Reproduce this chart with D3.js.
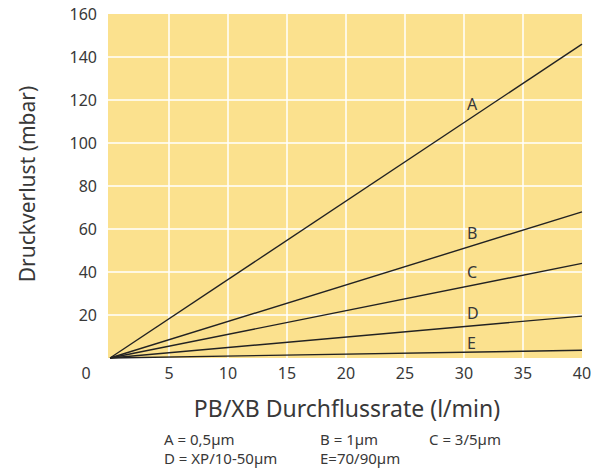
<!DOCTYPE html>
<html>
<head>
<meta charset="utf-8">
<script src="https://cdn.jsdelivr.net/npm/d3@7"></script>
<style>
  body { margin: 0; background: #fff; }
  text { font-family: "Noto Sans", sans-serif; fill: #383838; }
</style>
</head>
<body>
<div id="chart"></div>
<script>
// Flow rate (l/min) and pressure drop (mbar) per filter grade, lines from origin
const flowRates = [0, 40];
const seriesA = [0, 146];
const seriesB = [0, 68];
const seriesC = [0, 44];
const seriesD = [0, 19.5];
const seriesE = [0, 3.6];
const seriesNames = ["A", "B", "C", "D", "E"];
const xTicks = [5, 10, 15, 20, 25, 30, 35, 40];
const yTicks = [20, 40, 60, 80, 100, 120, 140, 160];
const legendItems = [
    ["A = 0,5µm", "B = 1µm", "C = 3/5µm"],
    ["D = XP/10-50µm", "E=70/90µm"]
];

const width = 593, height = 471;
const plotLeft = 110, plotRight = 582, plotTop = 14, plotBottom = 358;

const svg = d3.select("#chart").append("svg")
    .attr("width", width).attr("height", height);

const x = d3.scaleLinear().domain([0, 40]).range([plotLeft, plotRight]);
const y = d3.scaleLinear().domain([0, 160]).range([plotBottom, plotTop]);

// plot background
svg.append("rect")
    .attr("x", plotLeft - 2).attr("y", plotTop)
    .attr("width", plotRight - plotLeft + 2).attr("height", plotBottom - plotTop)
    .attr("fill", "#fbe18e");

// grid
svg.selectAll(".vgrid").data(xTicks.slice(0, -1)).enter().append("line")
    .attr("x1", d => x(d)).attr("x2", d => x(d))
    .attr("y1", plotTop).attr("y2", plotBottom)
    .attr("stroke", "#fff").attr("stroke-width", 1.5);

svg.selectAll(".hgrid").data(yTicks.slice(0, -1)).enter().append("line")
    .attr("x1", plotLeft - 2).attr("x2", plotRight)
    .attr("y1", d => y(d)).attr("y2", d => y(d))
    .attr("stroke", "#fff").attr("stroke-width", 1.5);

// lines
const allSeries = [seriesA, seriesB, seriesC, seriesD, seriesE];
const line = d3.line().x((d, i) => x(flowRates[i])).y(d => y(d));
allSeries.forEach(s => {
    svg.append("path").datum(s)
        .attr("d", line)
        .attr("fill", "none")
        .attr("stroke", "#222")
        .attr("stroke-width", 1.4);
});

// line labels at x = 30
const labelY = [118, 58, 40, 21, 7];
seriesNames.forEach((n, i) => {
    svg.append("text")
        .attr("x", x(30) + 3).attr("y", y(labelY[i]) + 6)
        .attr("font-size", 16)
        .text(n);
});

// tick labels
svg.selectAll(".xt").data(xTicks).enter().append("text")
    .attr("x", d => x(d)).attr("y", 379)
    .attr("text-anchor", "middle").attr("font-size", 16)
    .text(d => d);

svg.selectAll(".yt").data(yTicks).enter().append("text")
    .attr("x", 97).attr("y", d => y(d) + 6)
    .attr("text-anchor", "end").attr("font-size", 16)
    .text(d => d);

svg.append("text")
    .attr("x", 86).attr("y", 379)
    .attr("text-anchor", "middle").attr("font-size", 16)
    .text("0");

// axis titles
svg.append("text")
    .attr("transform", "translate(35,184) rotate(-90)")
    .attr("text-anchor", "middle").attr("font-size", 21)
    .text("Druckverlust (mbar)");

svg.append("text")
    .attr("x", 347).attr("y", 417)
    .attr("text-anchor", "middle").attr("font-size", 23)
    .text("PB/XB Durchflussrate (l/min)");

// legend
const legendX = [164, 320, 429];
legendItems.forEach((row, r) => {
    row.forEach((t, c) => {
        svg.append("text")
            .attr("x", legendX[c]).attr("y", 445 + r * 19)
            .attr("font-size", 15)
            .text(t);
    });
});
</script>
</body>
</html>
